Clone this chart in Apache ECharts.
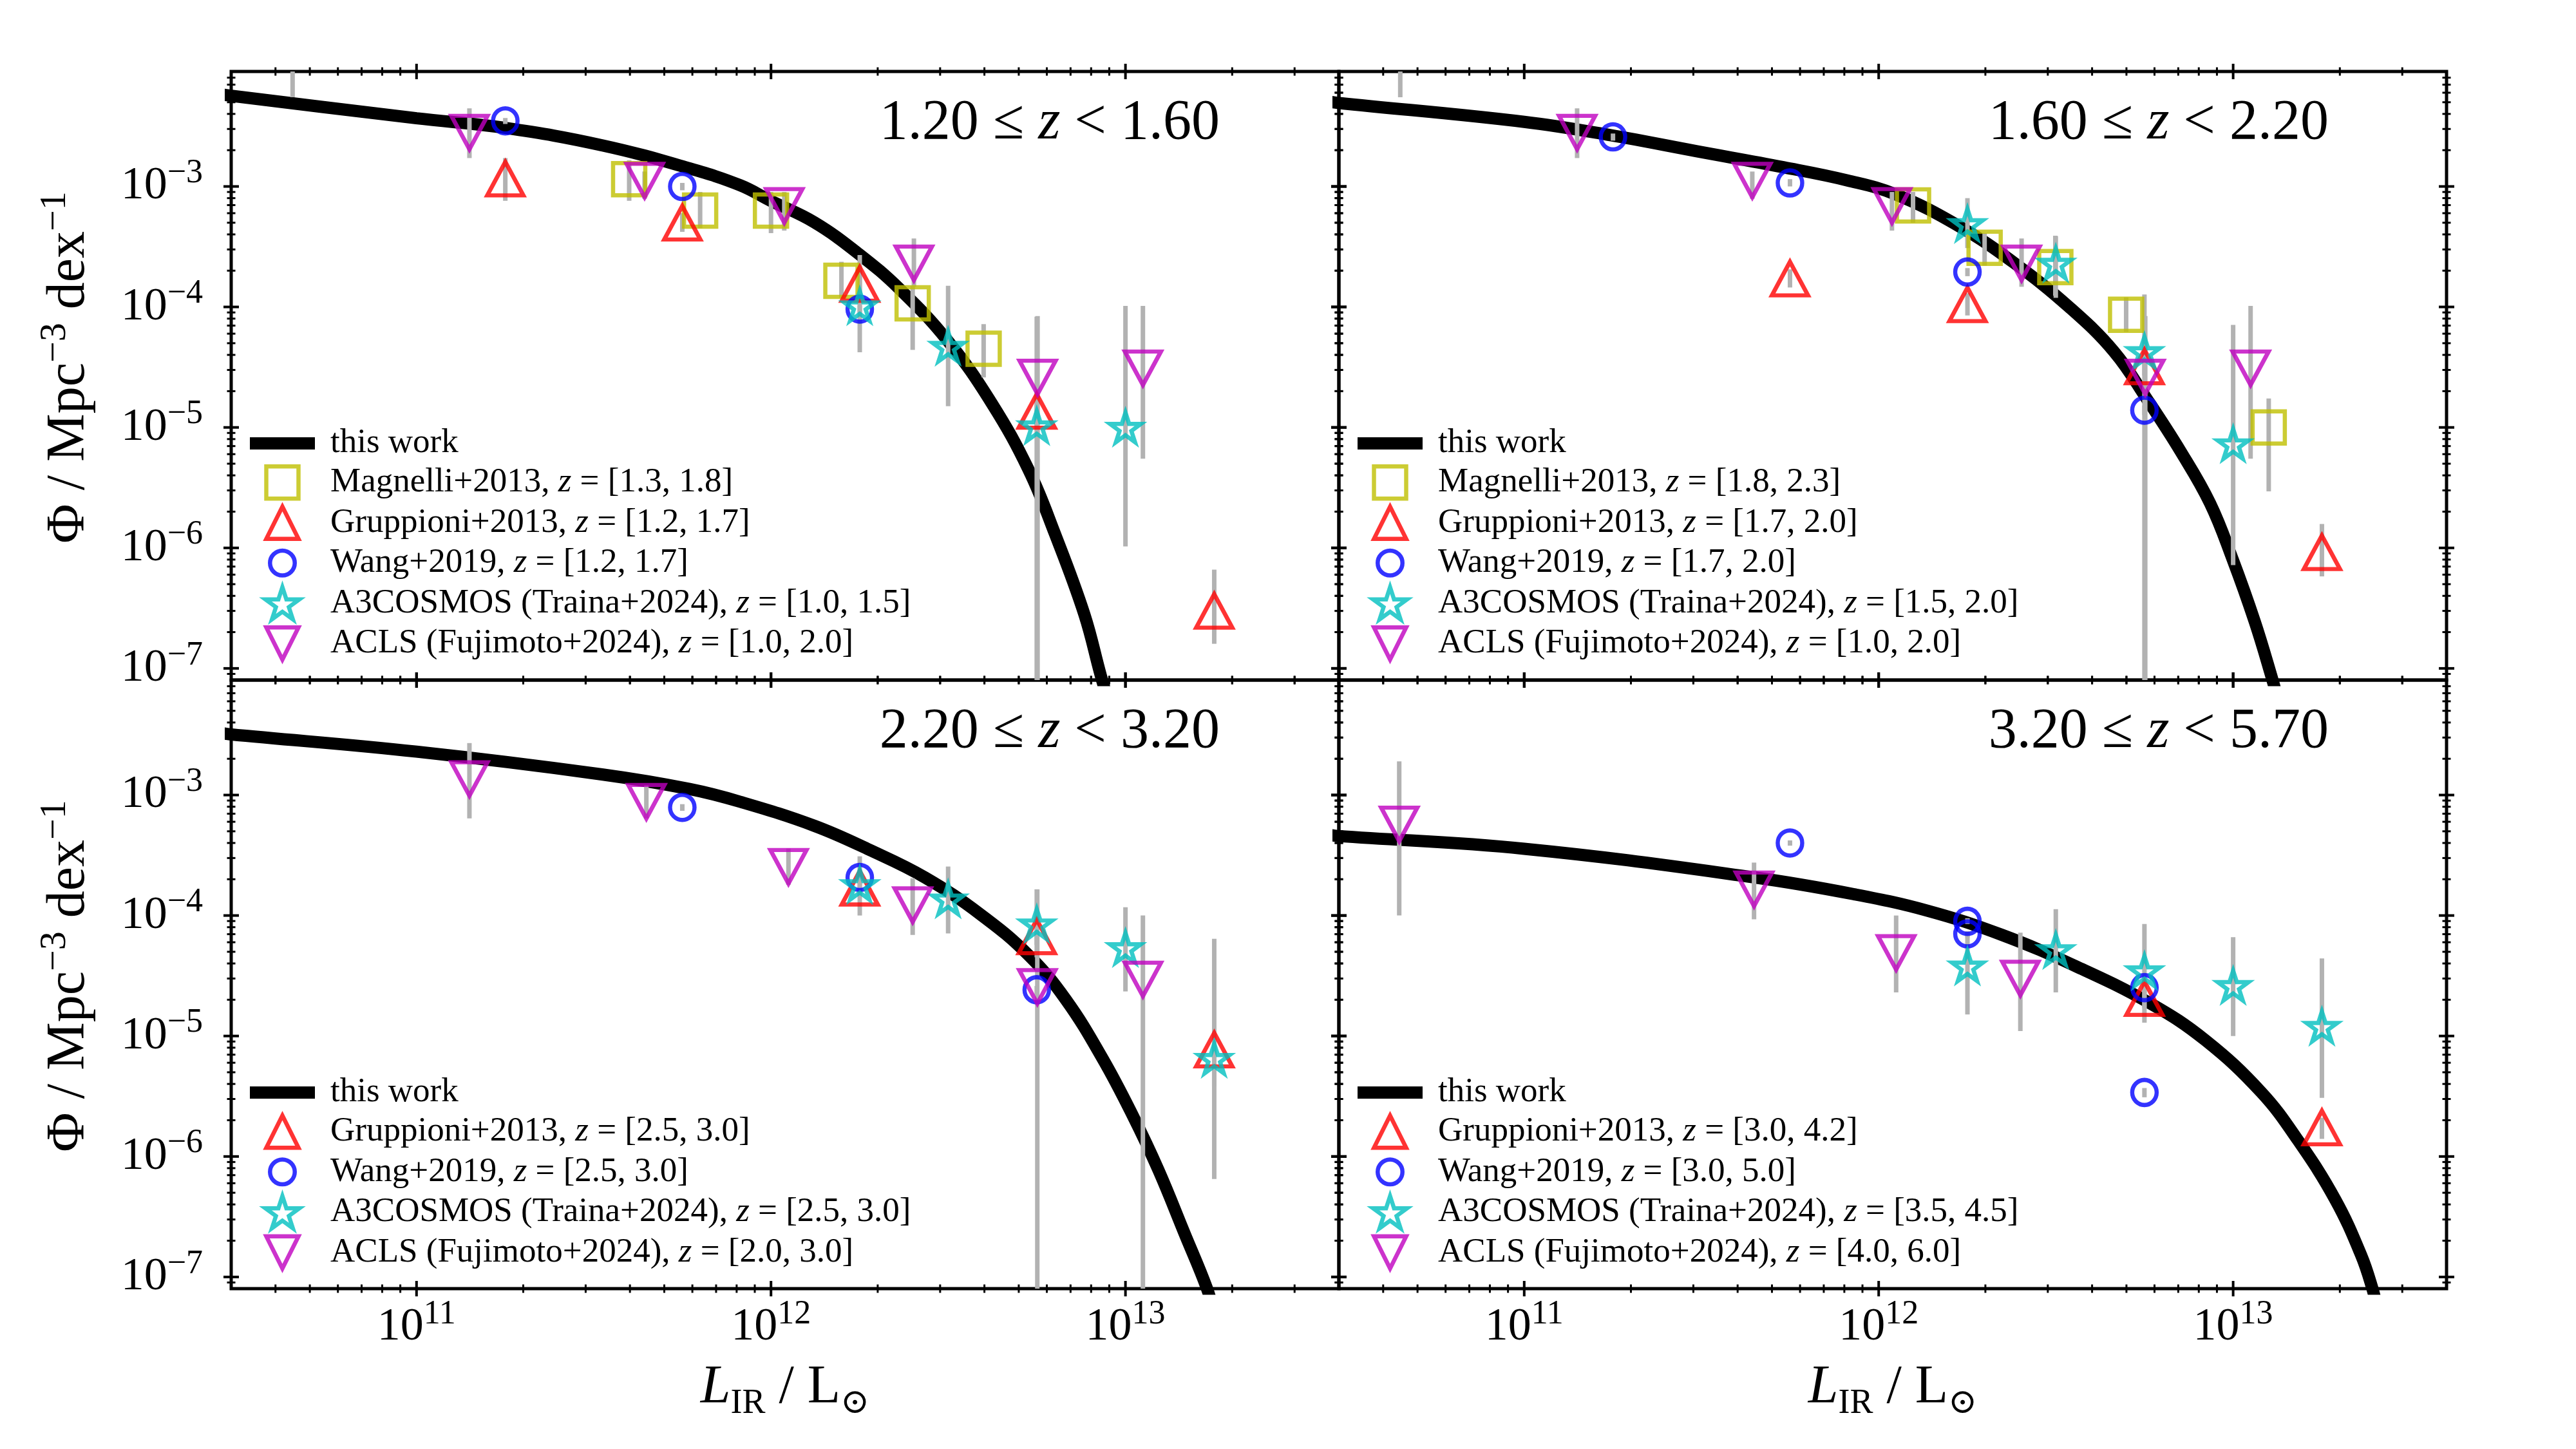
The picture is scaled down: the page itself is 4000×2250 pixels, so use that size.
<!DOCTYPE html>
<html>
<head>
<meta charset="utf-8">
<script src="https://cdn.jsdelivr.net/npm/echarts@6/dist/echarts.min.js"></script>
<style>
html,body{margin:0;padding:0;background:#fff}
#chart{width:4000px;height:2250px}
</style>
</head>
<body>
<div id="chart"></div>
<script>
// values (L_IR in L_sun, Phi in Mpc^-3 dex^-1)

const panelTitles = ['1.20 ≤ {i|z} < 1.60', '1.60 ≤ {i|z} < 2.20', '2.20 ≤ {i|z} < 3.20', '3.20 ≤ {i|z} < 5.70'];

// "this work" curves, [log10 L, log10 Phi]
const curveLog0 = [[10.45,-2.237],[10.474,-2.246],[11.0,-2.434],[11.248,-2.513],[11.526,-2.66],[11.77,-2.85],[11.913,-2.99],[12.0,-3.12],[12.122,-3.297],[12.247,-3.558],[12.362,-3.849],[12.498,-4.279],[12.623,-4.801],[12.727,-5.353],[12.80,-5.875],[12.884,-6.551],[12.931,-7.066],[12.96,-7.35]];
const curveLog1 = [[10.45,-2.295],[10.474,-2.306],[11.0,-2.464],[11.246,-2.576],[11.487,-2.708],[11.731,-2.84],[11.912,-2.95],[12.048,-3.066],[12.225,-3.327],[12.382,-3.634],[12.538,-4.003],[12.664,-4.371],[12.758,-4.77],[12.852,-5.20],[12.935,-5.63],[12.998,-6.09],[13.061,-6.612],[13.108,-7.066],[13.13,-7.3]];
const curveLog2 = [[10.45,-2.485],[10.474,-2.496],[11.0,-2.64],[11.526,-2.83],[11.77,-2.95],[11.913,-3.056],[12.122,-3.255],[12.278,-3.455],[12.435,-3.685],[12.592,-3.993],[12.727,-4.33],[12.832,-4.699],[12.936,-5.19],[13.019,-5.651],[13.093,-6.112],[13.166,-6.634],[13.229,-7.088],[13.25,-7.3]];
const curveLog3 = [[10.45,-3.33],[10.474,-3.34],[11.0,-3.446],[11.65,-3.684],[11.93,-3.823],[12.139,-3.961],[12.348,-4.161],[12.557,-4.422],[12.766,-4.729],[12.922,-5.036],[13.079,-5.466],[13.183,-5.866],[13.288,-6.357],[13.361,-6.818],[13.392,-7.088],[13.41,-7.3]];

// panel 0 : 1.20 <= z < 1.60
const mag0X = [3.98e11, 6.31e11, 1.0e12, 1.58e12, 2.51e12, 3.98e12];
const mag0Y = [1.15e-3, 6.3e-4, 6.3e-4, 1.65e-4, 1.07e-4, 4.5e-5];
const mag0Lo = [7.6e-4, 4.5e-4, 4.1e-4, 1.19e-4, 4.4e-5, 2.6e-5];
const mag0Hi = [1.65e-3, 9.0e-4, 9.0e-4, 2.37e-4, 1.5e-4, 7.2e-5];
const grp0X = [1.78e11, 5.62e11, 1.78e12, 5.62e12, 1.78e13];
const grp0Y = [1.16e-3, 5.0e-4, 1.55e-4, 1.37e-5, 3.0e-7];
const grp0Lo = [7.6e-4, 4.2e-4, 1.25e-4, 1.0e-5, 1.6e-7];
const grp0Hi = [1.72e-3, 6.0e-4, 2.0e-4, 1.9e-5, 6.6e-7];
const wang0X = [1.78e11, 5.62e11, 1.78e12];
const wang0Y = [3.5e-3, 1.0e-3, 9.6e-5];
const wang0Lo = [3.3e-3, 9.3e-4, 8.9e-5];
const wang0Hi = [3.7e-3, 1.07e-3, 1.03e-4];
const a3c0X = [1.78e12, 3.16e12, 5.62e12, 1.0e13];
const a3c0Y = [1.02e-4, 4.7e-5, 1.03e-5, 1.0e-5];
const a3c0Lo = [4.2e-5, 1.5e-5, 1e-9, 1.03e-6];
const a3c0Hi = [2.7e-4, 1.5e-4, 8.3e-5, 1.02e-4];
const acls0X = [4.47e10, 1.41e11, 4.4e11, 1.09e12, 2.53e12, 5.65e12, 1.12e13];
const acls0Y = [1.16e-2, 2.8e-3, 1.12e-3, 6.9e-4, 2.3e-4, 2.6e-5, 3.1e-5];
const acls0Lo = [5.5e-3, 1.72e-3, 7.9e-4, 4.3e-4, 1.47e-4, 1e-9, 5.5e-6];
const acls0Hi = [2.0e-2, 4.45e-3, 1.33e-3, 9.0e-4, 3.7e-4, 8.4e-5, 1.02e-4];

// panel 1 : 1.60 <= z < 2.20
const mag1X = [1.25e12, 1.99e12, 3.15e12, 4.99e12, 1.26e13];
const mag1Y = [6.95e-4, 3.1e-4, 2.14e-4, 8.6e-5, 1.0e-5];
const mag1Lo = [5.0e-4, 2.2e-4, 1.24e-4, 6.2e-5, 2.95e-6];
const mag1Hi = [9.0e-4, 4.1e-4, 3.9e-4, 1.2e-4, 1.74e-5];
const grp1X = [5.62e11, 1.78e12, 5.62e12, 1.78e13];
const grp1Y = [1.72e-4, 1.05e-4, 3.2e-5, 9.2e-7];
const grp1Lo = [1.45e-4, 8.5e-5, 2.7e-5, 5.8e-7];
const grp1Hi = [2.05e-4, 1.3e-4, 4.3e-5, 1.58e-6];
const wang1X = [1.78e11, 5.62e11, 1.78e12, 5.62e12];
const wang1Y = [2.58e-3, 1.07e-3, 1.95e-4, 1.39e-5];
const wang1Lo = [2.4e-3, 1.0e-3, 1.8e-4, 1.27e-5];
const wang1Hi = [2.75e-3, 1.15e-3, 2.1e-4, 1.52e-5];
const a3c1X = [1.78e12, 3.16e12, 5.62e12, 1.0e13];
const a3c1Y = [4.9e-4, 2.3e-4, 4.25e-5, 7.3e-6];
const a3c1Lo = [3.08e-4, 1.19e-4, 1e-9, 7.2e-7];
const a3c1Hi = [8.0e-4, 3.86e-4, 1.27e-4, 7.1e-5];
const acls1X = acls0X, acls1Y = acls0Y, acls1Lo = acls0Lo, acls1Hi = acls0Hi;

// panel 2 : 2.20 <= z < 3.20
const grp2X = [1.78e12, 5.62e12, 1.78e13];
const grp2Y = [1.7e-4, 6.7e-5, 7.7e-6];
const grp2Lo = [1.45e-4, 5.7e-5, 6.5e-7];
const grp2Hi = [2.0e-4, 7.9e-5, 6.4e-5];
const wang2X = [5.62e11, 1.78e12, 5.62e12];
const wang2Y = [7.9e-4, 2.07e-4, 2.42e-5];
const wang2Lo = [7.4e-4, 1.95e-4, 2.2e-5];
const wang2Hi = [8.4e-4, 2.2e-4, 2.6e-5];
const a3c2X = [1.78e12, 3.16e12, 5.62e12, 1.0e13, 1.78e13];
const a3c2Y = [1.8e-4, 1.37e-4, 8.5e-5, 5.4e-5, 6.5e-6];
const a3c2Lo = [1.0e-4, 7.1e-5, 4.5e-5, 2.34e-5, 3.8e-6];
const a3c2Hi = [3.1e-4, 2.55e-4, 1.65e-4, 1.17e-4, 1.1e-5];
const acls2X = [1.41e11, 4.45e11, 1.12e12, 2.51e12, 5.64e12, 1.12e13];
const acls2Y = [1.36e-3, 8.8e-4, 2.54e-4, 1.22e-4, 2.56e-5, 2.95e-5];
const acls2Lo = [6.4e-4, 6.4e-4, 1.8e-4, 6.9e-5, 1e-9, 1e-9];
const acls2Hi = [2.7e-3, 1.2e-3, 3.6e-4, 2.04e-4, 1.65e-4, 1.0e-4];

// panel 3 : 3.20 <= z < 5.70
const grp3X = [5.62e12, 1.78e13];
const grp3Y = [2.06e-5, 1.74e-6];
const grp3Lo = [1.7e-5, 1.4e-6];
const grp3Hi = [2.5e-5, 2.1e-6];
const wang3X = [5.62e11, 1.78e12, 1.78e12, 5.62e12, 5.62e12];
const wang3Y = [4.0e-4, 8.95e-5, 7.05e-5, 2.52e-5, 3.4e-6];
const wang3Lo = [3.8e-4, 8.5e-5, 6.6e-5, 2.3e-5, 3.1e-6];
const wang3Hi = [4.2e-4, 9.5e-5, 7.4e-5, 2.75e-5, 3.7e-6];
const a3c3X = [1.78e12, 3.16e12, 5.62e12, 1.0e13, 1.78e13];
const a3c3Y = [3.8e-5, 5.2e-5, 3.47e-5, 2.62e-5, 1.2e-5];
const a3c3Lo = [1.51e-5, 2.3e-5, 1.29e-5, 1.0e-5, 3.07e-6];
const a3c3Hi = [7.3e-5, 1.13e-4, 8.5e-5, 6.6e-5, 4.4e-5];
const acls3X = [4.44e10, 4.45e11, 1.12e12, 2.51e12];
const acls3Y = [5.7e-4, 1.65e-4, 4.9e-5, 3.0e-5];
const acls3Lo = [1.0e-4, 9.3e-5, 2.3e-5, 1.1e-5];
const acls3Hi = [1.9e-3, 2.75e-4, 1.0e-4, 7.2e-5];

const legendNames0 = ['this work', 'Magnelli+2013, z = [1.3, 1.8]', 'Gruppioni+2013, z = [1.2, 1.7]', 'Wang+2019, z = [1.2, 1.7]', 'A3COSMOS (Traina+2024), z = [1.0, 1.5]', 'ACLS (Fujimoto+2024), z = [1.0, 2.0]'];
const legendNames1 = ['this work', 'Magnelli+2013, z = [1.8, 2.3]', 'Gruppioni+2013, z = [1.7, 2.0]', 'Wang+2019, z = [1.7, 2.0]', 'A3COSMOS (Traina+2024), z = [1.5, 2.0]', 'ACLS (Fujimoto+2024), z = [1.0, 2.0]'];
const legendNames2 = ['this work', 'Gruppioni+2013, z = [2.5, 3.0]', 'Wang+2019, z = [2.5, 3.0]', 'A3COSMOS (Traina+2024), z = [2.5, 3.0]', 'ACLS (Fujimoto+2024), z = [2.0, 3.0]'];
const legendNames3 = ['this work', 'Gruppioni+2013, z = [3.0, 4.2]', 'Wang+2019, z = [3.0, 5.0]', 'A3COSMOS (Traina+2024), z = [3.5, 4.5]', 'ACLS (Fujimoto+2024), z = [4.0, 6.0]'];

const xMajorTicks = [1e11, 1e12, 1e13];
const yMajorTicks = [1e-7, 1e-6, 1e-5, 1e-4, 1e-3];
const xMin = 3e10, xMax = 4e13, yMin = 8e-8, yMax = 9e-3;

// ---- styling ----
const FONT = "'Liberation Serif','DejaVu Serif',serif";
const STAR = 'path://M0,-1L0.2245,-0.309L0.951,-0.309L0.3633,0.118L0.5878,0.809L0,0.382L-0.5878,0.809L-0.3633,0.118L-0.951,-0.309L-0.2245,-0.309Z';
const TRI_UP = 'path://M1,0L2,2L0,2Z';
const TRI_DOWN = 'path://M0,0L2,0L1,2Z';
const SQUARE = 'path://M0,0L1,0L1,1L0,1Z';
// circle with empty margin so the legend icon keeps the plotted size
const CIRCLE_ICON = 'path://M-1.3,-1.3M1.3,1.3M1,0A1,1,0,1,0,-1,0A1,1,0,1,0,1,0Z';
const LINE_ICON = 'path://M0,0L100,0L100,19L0,19Z';
const ERR_COLOR = '#b2b2b2';
const MARK = {
    mag:  {symbol: SQUARE, icon: SQUARE, size: [50, 50], color: '#bfbf00'},
    grp:  {symbol: TRI_UP, icon: TRI_UP, size: [56, 52], color: '#ff0000'},
    wang: {symbol: 'circle', icon: CIRCLE_ICON, size: [38, 39], color: '#0000ff'},
    a3c:  {symbol: STAR, icon: STAR, size: [48, 46], color: '#00bfbf'},
    acls: {symbol: TRI_DOWN, icon: TRI_DOWN, size: [56, 52], color: '#bf00bf'}
};

const panels = [
    {curve: curveLog0, names: legendNames0, sets: [
        ['mag', mag0X, mag0Y, mag0Lo, mag0Hi], ['grp', grp0X, grp0Y, grp0Lo, grp0Hi],
        ['wang', wang0X, wang0Y, wang0Lo, wang0Hi], ['a3c', a3c0X, a3c0Y, a3c0Lo, a3c0Hi],
        ['acls', acls0X, acls0Y, acls0Lo, acls0Hi]]},
    {curve: curveLog1, names: legendNames1, sets: [
        ['mag', mag1X, mag1Y, mag1Lo, mag1Hi], ['grp', grp1X, grp1Y, grp1Lo, grp1Hi],
        ['wang', wang1X, wang1Y, wang1Lo, wang1Hi], ['a3c', a3c1X, a3c1Y, a3c1Lo, a3c1Hi],
        ['acls', acls1X, acls1Y, acls1Lo, acls1Hi]]},
    {curve: curveLog2, names: legendNames2, sets: [
        ['grp', grp2X, grp2Y, grp2Lo, grp2Hi], ['wang', wang2X, wang2Y, wang2Lo, wang2Hi],
        ['a3c', a3c2X, a3c2Y, a3c2Lo, a3c2Hi], ['acls', acls2X, acls2Y, acls2Lo, acls2Hi]]},
    {curve: curveLog3, names: legendNames3, sets: [
        ['grp', grp3X, grp3Y, grp3Lo, grp3Hi], ['wang', wang3X, wang3Y, wang3Lo, wang3Hi],
        ['a3c', a3c3X, a3c3Y, a3c3Lo, a3c3Hi], ['acls', acls3X, acls3Y, acls3Lo, acls3Hi]]}
];

// pixel boxes of the four panels (shared edges, no spacing)
const gridBox = [
    {left: 359, top: 111, width: 1720, height: 945},
    {left: 2079, top: 111, width: 1720, height: 945},
    {left: 359, top: 1056, width: 1720, height: 945},
    {left: 2079, top: 1056, width: 1720, height: 945}
];

function minorTicks(lo, hi, e0, e1){
    const out = [];
    for (let e = e0; e <= e1; e++){
        for (let m = 2; m <= 9; m++){
            const v = m * Math.pow(10, e);
            if (v > lo * 1.001 && v < hi * 0.999) out.push(v);
        }
    }
    return out;
}
const xMinorTicks = minorTicks(xMin, xMax, 10, 13);
const yMinorTicks = minorTicks(yMin, yMax, -8, -3);

function powLabel(v){
    const e = Math.log10(v), n = Math.round(e);
    if (Math.abs(e - n) > 0.01) return '';
    return '{b|10}{s|' + (n < 0 ? '\u2212' + (-n) : n) + '}';
}

function tickRender(params, api){
    const cs = params.coordSys;
    const axis = api.value(2), major = api.value(3);
    const L = major ? 12 : 6.5, lw = major ? 4 : 3;
    const ch = [];
    if (axis === 0){
        const x = api.coord([api.value(0), 1e-5])[0];
        [cs.y, cs.y + cs.height].forEach(function(y){
            ch.push({type: 'line', shape: {x1: x, y1: y - L, x2: x, y2: y + L}, style: {stroke: '#000', lineWidth: lw}});
        });
    } else {
        const y = api.coord([1e12, api.value(1)])[1];
        [cs.x, cs.x + cs.width].forEach(function(x){
            ch.push({type: 'line', shape: {x1: x - L, y1: y, x2: x + L, y2: y}, style: {stroke: '#000', lineWidth: lw}});
        });
    }
    return {type: 'group', children: ch};
}

function errRender(params, api){
    const cs = params.coordSys;
    const x = api.value(0);
    const p1 = api.coord([x, api.value(1)]);
    const p2 = api.coord([x, api.value(2)]);
    const top = Math.max(cs.y, Math.min(p1[1], p2[1]));
    const bot = Math.min(cs.y + cs.height, Math.max(p1[1], p2[1]));
    if (bot <= top) return null;
    return {type: 'line', shape: {x1: p1[0], y1: top, x2: p1[0], y2: bot}, style: {stroke: ERR_COLOR, lineWidth: 7}};
}

const series = [];
const legends = [];
const titles = [];
const tickData = [];
xMajorTicks.forEach(v => tickData.push([v, 1e-5, 0, 1]));
xMinorTicks.forEach(v => tickData.push([v, 1e-5, 0, 0]));
yMajorTicks.forEach(v => tickData.push([1e12, v, 1, 1]));
yMinorTicks.forEach(v => tickData.push([1e12, v, 1, 0]));

panels.forEach(function(p, i){
    series.push({
        name: 'this work', type: 'line', xAxisIndex: i, yAxisIndex: i,
        data: p.curve.map(q => [Math.pow(10, q[0]), Math.pow(10, q[1])]),
        symbol: 'none', smooth: 0.4, clip: true,
        lineStyle: {color: '#000', width: 19}, z: 2, silent: true
    });
    const legendData = [{name: 'this work', icon: LINE_ICON, itemStyle: {color: '#000', borderWidth: 0}}];
    p.sets.forEach(function(s, k){
        const m = MARK[s[0]];
        const name = p.names[k + 1];
        series.push({
            type: 'custom', xAxisIndex: i, yAxisIndex: i, renderItem: errRender,
            data: s[1].map((x, j) => [x, s[3][j], s[4][j]]), encode: {x: 0, y: [1, 2]}, z: 3, silent: true
        });
        series.push({
            name: name, type: 'scatter', xAxisIndex: i, yAxisIndex: i,
            data: s[1].map((x, j) => [x, s[2][j]]),
            symbol: m.symbol, symbolSize: m.size,
            itemStyle: {color: 'rgba(0,0,0,0)', borderColor: m.color, borderWidth: 6.5},
            z: 4, silent: true
        });
        legendData.push({name: name, icon: m.icon, itemStyle: {color: 'rgba(0,0,0,0)', borderColor: m.color, borderWidth: 6.5}});
    });
    series.push({
        type: 'custom', xAxisIndex: i, yAxisIndex: i, renderItem: tickRender,
        data: tickData, encode: {x: 0, y: 1}, z: 6, silent: true, clip: false
    });
    const g = gridBox[i];
    legends.push({
        data: legendData, orient: 'vertical', left: g.left + 29, top: g.top + (i < 2 ? 551 : 614),
        padding: 0, itemWidth: 101, itemHeight: 50, itemGap: 6, selectedMode: false,
        formatter: name => name.replace(', z = ', ', {i|z} = '),
        textStyle: {fontFamily: FONT, fontSize: 53, lineHeight: 50, color: '#000', padding: [0, 0, 0, 19],
            rich: {i: {fontFamily: FONT, fontSize: 53, lineHeight: 50, fontStyle: 'italic'}}}
    });
    titles.push({
        text: panelTitles[i], right: 4000 - (g.left + g.width - (i % 2 === 0 ? 180 : 178)), top: g.top + 32,
        textStyle: {fontFamily: FONT, fontSize: 88, fontWeight: 'normal', color: '#000',
            rich: {i: {fontFamily: FONT, fontSize: 88, fontStyle: 'italic'}}}
    });
});

const tickRich = {
    b: {fontFamily: FONT, fontSize: 72, color: '#000'},
    s: {fontFamily: FONT, fontSize: 52, color: '#000', padding: [0, 0, 40, 0]}
};

const option = {
    animation: false,
    backgroundColor: '#fff',
    title: titles,
    legend: legends,
    grid: gridBox.map(g => Object.assign({show: true, borderColor: '#000', borderWidth: 5,
        backgroundColor: 'rgba(0,0,0,0)', outerBoundsMode: 'none', containLabel: false}, g)),
    xAxis: gridBox.map((g, i) => ({
        type: 'log', logBase: 10, gridIndex: i, min: xMin, max: xMax,
        axisLine: {show: false}, axisTick: {show: false}, splitLine: {show: false},
        axisLabel: {show: i >= 2, formatter: powLabel, margin: 14, rich: tickRich},
        name: i >= 2 ? '{i|L}{sub|IR}{r| / L}{sub|\u2299}' : '',
        nameLocation: 'middle', nameGap: 104,
        nameTextStyle: {fontFamily: FONT, fontSize: 84, color: '#000', rich: {
            i: {fontFamily: FONT, fontSize: 84, fontStyle: 'italic'},
            r: {fontFamily: FONT, fontSize: 84},
            sub: {fontFamily: FONT, fontSize: 54, padding: [48, 0, 0, 0]}}}
    })),
    yAxis: gridBox.map((g, i) => ({
        type: 'log', logBase: 10, gridIndex: i, min: yMin, max: yMax,
        axisLine: {show: false}, axisTick: {show: false}, splitLine: {show: false},
        axisLabel: {show: i % 2 === 0, formatter: powLabel, margin: 44, rich: tickRich},
        name: i % 2 === 0 ? '{r|\u03A6 / Mpc}{sup|\u22123}{r| dex}{sup|\u22121}' : '',
        nameLocation: 'middle', nameRotate: 90, nameGap: 200,
        nameTextStyle: {fontFamily: FONT, fontSize: 84, color: '#000', padding: [0, 0, 0, 26], rich: {
            r: {fontFamily: FONT, fontSize: 84},
            sup: {fontFamily: FONT, fontSize: 58, padding: [0, 0, 44, 0]}}}
    })),
    series: series
};

const chart = echarts.init(document.getElementById('chart'));
chart.setOption(option);
</script>
</body>
</html>
